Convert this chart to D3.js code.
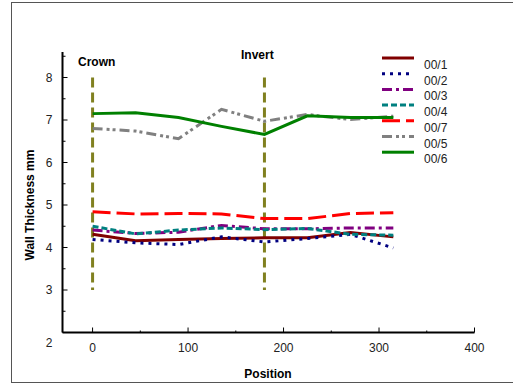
<!DOCTYPE html>
<html>
<head>
<meta charset="utf-8">
<script src="https://cdn.jsdelivr.net/npm/d3@7"></script>
<style>
  body { margin: 0; background: #fff; }
  svg { display: block; font-family: "Liberation Sans", Arial, sans-serif; }
</style>
</head>
<body>
<svg id="chart" width="513" height="385"></svg>
<script>
// positions round the pipe
const positions = [0, 45, 90, 135, 180, 225, 270, 315];

const s00_1 = [4.31, 4.16, 4.19, 4.21, 4.23, 4.23, 4.35, 4.25];
const s00_2 = [4.19, 4.11, 4.07, 4.25, 4.13, 4.21, 4.31, 3.99];
const s00_3 = [4.41, 4.33, 4.36, 4.52, 4.44, 4.44, 4.46, 4.46];
const s00_4 = [4.50, 4.32, 4.41, 4.46, 4.42, 4.45, 4.31, 4.29];
const s00_7 = [4.84, 4.79, 4.80, 4.79, 4.68, 4.68, 4.80, 4.82];
const s00_5 = [6.80, 6.74, 6.56, 7.25, 6.97, 7.13, 7.01, 7.09];
const s00_6 = [7.15, 7.17, 7.06, 6.85, 6.66, 7.10, 7.06, 7.06];

const seriesNames = ["00/1", "00/2", "00/3", "00/4", "00/7", "00/5", "00/6"];
const seriesValues = [s00_1, s00_2, s00_3, s00_4, s00_7, s00_5, s00_6];
const seriesColors = ["#800000", "#000080", "#800080", "#008080", "#ff0000", "#808080", "#008000"];
const seriesDash = ["none", "3,5", "10,4,3,4", "6,3", "18,6", "10,4,3,3,3,4", "none"];

const markers = [{x: 0, label: "Crown"}, {x: 180, label: "Invert"}];
const markerRange = [3, 8];

const xTicks = [0, 100, 200, 300, 400];
const yTicks = [2, 3, 4, 5, 6, 7, 8];

const svg = d3.select("#chart");

// outer frame
svg.append("rect")
  .attr("x", 11.5).attr("y", 2.5)
  .attr("width", 520).attr("height", 380)
  .attr("fill", "none").attr("stroke", "#555").attr("stroke-width", 1);

const x = d3.scaleLinear().domain([-31.5, 400]).range([62.5, 474.5]);
const y = d3.scaleLinear().domain([2, 8]).range([332.5, 77.5]);

// y axis
const yAxis = svg.append("g").attr("transform", "translate(62.5,0)");
yAxis.append("line").attr("y1", y(8.6)).attr("y2", y(2)).attr("stroke", "#000").attr("stroke-width", 2);
yAxis.selectAll(".minor").data(d3.range(2.5, 8.6, 1)).enter().append("line")
  .attr("x1", 0).attr("x2", 3).attr("y1", d => y(d)).attr("y2", d => y(d))
  .attr("stroke", "#000").attr("stroke-width", 1);
yAxis.selectAll(".major").data(yTicks).enter().append("line")
  .attr("x1", 0).attr("x2", 5).attr("y1", d => y(d)).attr("y2", d => y(d))
  .attr("stroke", "#000").attr("stroke-width", 1);
yAxis.selectAll("text").data(yTicks).enter().append("text")
  .attr("x", -10).attr("y", d => y(d) + (d === 2 ? 14 : 4))
  .attr("text-anchor", "end").attr("font-size", 12).attr("fill", "#222")
  .text(d => d);

// x axis
const xAxis = svg.append("g").attr("transform", "translate(0,332.5)");
xAxis.append("line").attr("x1", 62.5).attr("x2", x(400)).attr("stroke", "#000").attr("stroke-width", 2);
xAxis.selectAll(".minor").data([50, 150, 250, 350]).enter().append("line")
  .attr("x1", d => x(d)).attr("x2", d => x(d)).attr("y1", 0).attr("y2", -2)
  .attr("stroke", "#000");
xAxis.selectAll(".major").data(xTicks).enter().append("line")
  .attr("x1", d => x(d)).attr("x2", d => x(d)).attr("y1", 0).attr("y2", -5)
  .attr("stroke", "#000");
xAxis.selectAll("text").data(xTicks).enter().append("text")
  .attr("x", d => x(d)).attr("y", 19)
  .attr("text-anchor", "middle").attr("font-size", 12).attr("fill", "#222")
  .text(d => d);

svg.append("text").attr("x", 268).attr("y", 378)
  .attr("text-anchor", "middle").attr("font-size", 12).attr("font-weight", "bold")
  .text("Position");
svg.append("text").attr("transform", "translate(34,205) rotate(-90)")
  .attr("text-anchor", "middle").attr("font-size", 12).attr("font-weight", "bold")
  .text("Wall Thickness mm");

// crown / invert markers
markers.forEach(m => {
  svg.append("line")
    .attr("x1", x(m.x)).attr("x2", x(m.x))
    .attr("y1", y(markerRange[1])).attr("y2", y(markerRange[0]))
    .attr("stroke", "#808020").attr("stroke-width", 3).attr("stroke-dasharray", "10,5");
});
svg.append("text").attr("x", 78).attr("y", 66).attr("font-size", 12).attr("font-weight", "bold").text(markers[0].label);
svg.append("text").attr("x", 241).attr("y", 59).attr("font-size", 12).attr("font-weight", "bold").text(markers[1].label);

// series lines
const line = d3.line().x((d, i) => x(positions[i])).y(d => y(d));
seriesValues.forEach((vals, i) => {
  svg.append("path")
    .attr("d", line(vals))
    .attr("fill", "none")
    .attr("stroke", seriesColors[i])
    .attr("stroke-width", 3)
    .attr("stroke-dasharray", seriesDash[i]);
});

// legend
const legend = svg.append("g");
seriesNames.forEach((name, i) => {
  const ly = 58 + i * 15.7;
  legend.append("line")
    .attr("x1", 382).attr("x2", 414).attr("y1", ly).attr("y2", ly)
    .attr("stroke", seriesColors[i]).attr("stroke-width", 3)
    .attr("stroke-dasharray", seriesDash[i]);
  legend.append("text")
    .attr("x", 424).attr("y", ly + 11)
    .attr("font-size", 12).attr("fill", "#222")
    .text(name);
});
</script>
</body>
</html>
